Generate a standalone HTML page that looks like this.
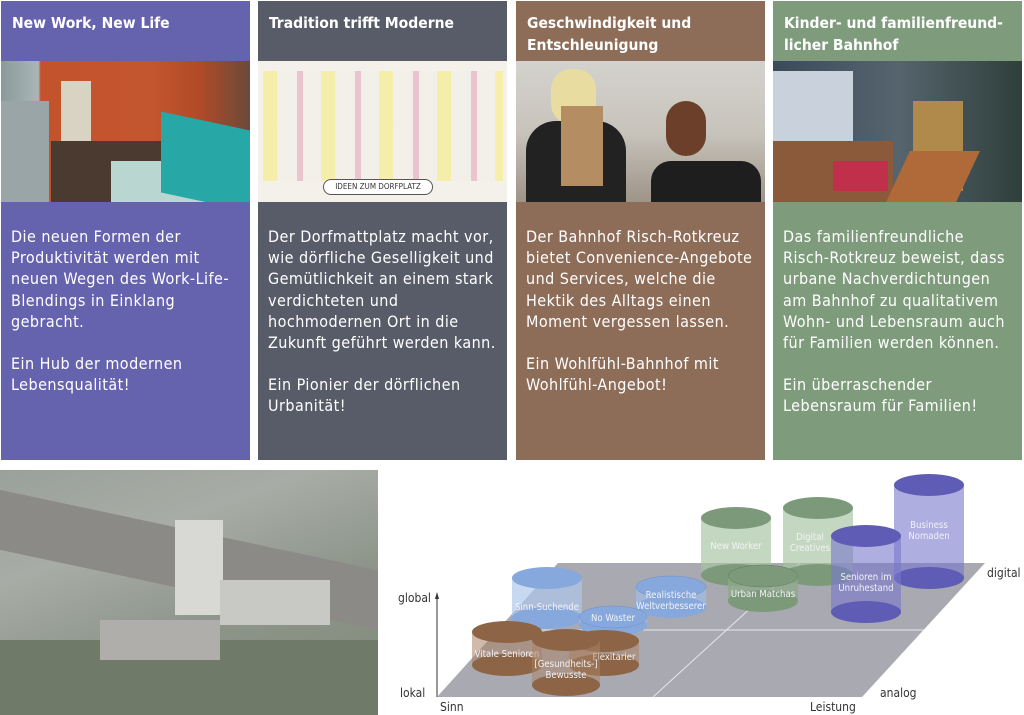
<!DOCTYPE html>
<html><head><meta charset="utf-8"><style>
*{margin:0;padding:0;box-sizing:border-box}
body{width:1024px;height:715px;background:#fff;position:relative;overflow:hidden;font-family:"DejaVu Sans Condensed","Liberation Sans",sans-serif}
.card{position:absolute;top:1px;width:249px;height:459px;color:#fff}
.hd{height:60px;padding:11px 10px 0 11px;font-weight:bold;font-size:15.5px;line-height:22px}
.img{height:141px;position:relative;overflow:hidden}
.tx{padding:24px 4px 0 10px;font-size:16px;line-height:21.2px;letter-spacing:0.45px;white-space:nowrap}
.tx p{margin-bottom:21px}
</style></head><body>

<div class="card" style="left:1px;background:#6562ae">
<div class="hd">New Work, New Life</div>
<div class="img" style="background:linear-gradient(90deg,#8a9a9c 0,#aab6b6 15%,#c2532c 16%,#c4562f 60%,#b04a28 80%,#6a4a3a 100%)">
<div style="position:absolute;left:0;top:40px;width:48px;height:101px;background:#9aa5a8"></div>
<div style="position:absolute;left:60px;top:20px;width:30px;height:110px;background:#d8d3c3"></div>
<div style="position:absolute;left:50px;top:80px;width:110px;height:61px;background:#4a3a30"></div>
<div style="position:absolute;left:110px;top:100px;width:139px;height:41px;background:#b9d6d0"></div>
<div style="position:absolute;left:160px;top:60px;width:89px;height:81px;background:#27a7a5;transform:skewY(12deg)"></div>
</div>
<div class="tx"><p>Die neuen Formen der<br>Produktivität werden mit<br>neuen Wegen des Work-Life-<br>Blendings in Einklang<br>gebracht.</p><p>Ein Hub der modernen<br>Lebensqualität!</p></div>
</div>

<div class="card" style="left:258px;background:#585b68">
<div class="hd">Tradition trifft Moderne</div>
<div class="img" style="background:#f3f1ea">
<div style="position:absolute;left:5px;top:10px;width:240px;height:110px;background:repeating-linear-gradient(90deg,#f5ee9a 0 14px,#f1efe8 14px 34px,#e8b8c8 34px 40px,#f1efe8 40px 58px);opacity:.8"></div>
<div style="position:absolute;left:65px;top:118px;width:110px;height:16px;border:1px solid #555;border-radius:8px;background:#fff;font-size:8px;color:#333;text-align:center;line-height:14px">IDEEN ZUM DORFPLATZ</div>
</div>
<div class="tx"><p>Der Dorfmattplatz macht vor,<br>wie dörfliche Geselligkeit und<br>Gemütlichkeit an einem stark<br>verdichteten und<br>hochmodernen Ort in die<br>Zukunft geführt werden kann.</p><p>Ein Pionier der dörflichen<br>Urbanität!</p></div>
</div>

<div class="card" style="left:516px;background:#8d6c58">
<div class="hd">Geschwindigkeit und<br>Entschleunigung</div>
<div class="img" style="background:linear-gradient(180deg,#d4d2ce 0,#c8c4bc 50%,#9e9488 100%)">
<div style="position:absolute;left:10px;top:60px;width:100px;height:81px;background:#222;border-radius:30px 30px 0 0"></div>
<div style="position:absolute;left:35px;top:8px;width:45px;height:55px;background:#e9dca0;border-radius:20px"></div>
<div style="position:absolute;left:45px;top:45px;width:42px;height:80px;background:#b48d62"></div>
<div style="position:absolute;left:135px;top:100px;width:110px;height:41px;background:#1e1e1e;border-radius:20px 20px 0 0"></div>
<div style="position:absolute;left:150px;top:40px;width:40px;height:55px;background:#6b3f2a;border-radius:20px"></div>
</div>
<div class="tx"><p>Der Bahnhof Risch-Rotkreuz<br>bietet Convenience-Angebote<br>und Services, welche die<br>Hektik des Alltags einen<br>Moment vergessen lassen.</p><p>Ein Wohlfühl-Bahnhof mit<br>Wohlfühl-Angebot!</p></div>
</div>

<div class="card" style="left:773px;background:#7e9b7c">
<div class="hd">Kinder- und familienfreund-<br>licher Bahnhof</div>
<div class="img" style="background:linear-gradient(90deg,#3a4a5a 0,#56646e 50%,#2f3f3a 100%)">
<div style="position:absolute;left:0;top:10px;width:80px;height:70px;background:#c9d2dc"></div>
<div style="position:absolute;left:0;top:80px;width:120px;height:61px;background:#8a5a3a"></div>
<div style="position:absolute;left:60px;top:100px;width:55px;height:30px;background:#c0304a"></div>
<div style="position:absolute;left:140px;top:40px;width:50px;height:90px;background:#b08a4a"></div>
<div style="position:absolute;left:125px;top:90px;width:70px;height:51px;background:#b06a3a;transform:skewX(-25deg)"></div>
</div>
<div class="tx"><p>Das familienfreundliche<br>Risch-Rotkreuz beweist, dass<br>urbane Nachverdichtungen<br>am Bahnhof zu qualitativem<br>Wohn- und Lebensraum auch<br>für Familien werden können.</p><p>Ein überraschender<br>Lebensraum für Familien!</p></div>
</div>

<div style="position:absolute;left:0;top:470px;width:378px;height:245px;background:linear-gradient(160deg,#9aa19a 0,#a8aca6 30%,#8d958a 60%,#7f8a78 100%);overflow:hidden">
<div style="position:absolute;left:0;top:60px;width:378px;height:60px;background:#8c8a86;transform:skewY(12deg)"></div>
<div style="position:absolute;left:175px;top:50px;width:48px;height:95px;background:#d8d8d4"></div>
<div style="position:absolute;left:220px;top:110px;width:110px;height:45px;background:#c8c8c4"></div>
<div style="position:absolute;left:0;top:170px;width:378px;height:75px;background:#6f7a68"></div>
<div style="position:absolute;left:100px;top:150px;width:120px;height:40px;background:#b0aeaa"></div>
</div>

<svg style="position:absolute;left:0;top:0" width="1024" height="715" font-family="DejaVu Sans Condensed, Liberation Sans, sans-serif">
<polygon points="437,697 862,697 985,563 558,563" fill="#a9a9b1"/>
<line x1="507" y1="630" x2="924" y2="630" stroke="#e6e6ea" stroke-width="1"/>
<line x1="653" y1="697" x2="800" y2="563" stroke="#e6e6ea" stroke-width="1"/>
<line x1="437" y1="697" x2="437" y2="598" stroke="#333" stroke-width="1"/>
<polygon points="437,592 435,599 439,599" fill="#333"/>
<g font-size="12" fill="#333">
<text x="398" y="602">global</text><text x="400" y="697">lokal</text>
<text x="440" y="711">Sinn</text><text x="810" y="711">Leistung</text>
<text x="880" y="697">analog</text><text x="987" y="577">digital</text>
</g>
<g font-size="9.5" fill="#f2f2f6" text-anchor="middle">
<path d="M894,485 L894,578 A35,11 0 0 0 964,578 L964,485 Z" fill="rgba(120,120,205,0.6)"/>
<ellipse cx="929" cy="578" rx="35" ry="11" fill="#5e5cb4"/><ellipse cx="929" cy="485" rx="35" ry="11" fill="#5e5cb4"/>
<text x="929" y="528">Business</text><text x="929" y="539">Nomaden</text>
<path d="M783,508 L783,575 A35,11 0 0 0 853,575 L853,508 Z" fill="rgba(165,195,160,0.65)"/>
<ellipse cx="818" cy="575" rx="35" ry="11" fill="#7c9a7a"/><ellipse cx="818" cy="508" rx="35" ry="11" fill="#7c9a7a"/>
<text x="810" y="540">Digital</text><text x="810" y="551">Creatives</text>
<path d="M701,518 L701,575 A35,11 0 0 0 771,575 L771,518 Z" fill="rgba(165,195,160,0.65)"/>
<ellipse cx="736" cy="575" rx="35" ry="11" fill="#7c9a7a"/><ellipse cx="736" cy="518" rx="35" ry="11" fill="#7c9a7a"/>
<text x="736" y="549">New Worker</text>
<path d="M831,536 L831,612 A35,11 0 0 0 901,612 L901,536 Z" fill="rgba(120,120,205,0.6)"/>
<ellipse cx="866" cy="612" rx="35" ry="11" fill="#5e5cb4"/><ellipse cx="866" cy="536" rx="35" ry="11" fill="#5e5cb4"/>
<path d="M728,576 L728,601 A35,11 0 0 0 798,601 L798,576 Z" fill="rgba(140,170,135,0.75)"/>
<ellipse cx="763" cy="601" rx="35" ry="11" fill="#7c9a7a"/><ellipse cx="763" cy="576" rx="35" ry="11" fill="#7c9a7a" stroke="#5f7c5d" stroke-width=".5"/>
<text x="763" y="597">Urban Matchas</text>
<path d="M512,578 L512,618 A35,11 0 0 0 582,618 L582,578 Z" fill="rgba(175,200,235,0.7)"/>
<ellipse cx="547" cy="618" rx="35" ry="11" fill="#86a8dc"/><ellipse cx="547" cy="578" rx="35" ry="11" fill="#86a8dc"/>
<text x="547" y="610">Sinn-Suchende</text>
<path d="M636,587 L636,607 A35,11 0 0 0 706,607 L706,587 Z" fill="rgba(160,190,230,0.75)"/>
<ellipse cx="671" cy="607" rx="35" ry="11" fill="#86a8dc"/><ellipse cx="671" cy="587" rx="35" ry="11" fill="#86a8dc" stroke="#6f8fc4" stroke-width=".5"/>
<text x="671" y="598">Realistische</text><text x="671" y="609">Weltverbesserer</text>
<path d="M579,617 L579,625 A34,11 0 0 0 647,625 L647,617 Z" fill="rgba(160,190,230,0.8)"/>
<ellipse cx="613" cy="625" rx="34" ry="11" fill="#86a8dc"/><ellipse cx="613" cy="617" rx="34" ry="11" fill="#86a8dc" stroke="#6f8fc4" stroke-width=".5"/>
<text x="613" y="621">No Waster</text>
<path d="M472,632 L472,665 A35,11 0 0 0 542,665 L542,632 Z" fill="rgba(170,130,100,0.55)"/>
<ellipse cx="507" cy="665" rx="35" ry="11" fill="#8d6546"/><ellipse cx="507" cy="632" rx="35" ry="11" fill="#8d6546"/>
<text x="507" y="657">Vitale Senioren</text>
<path d="M569,641 L569,665 A35,11 0 0 0 639,665 L639,641 Z" fill="rgba(170,130,100,0.55)"/>
<ellipse cx="604" cy="665" rx="35" ry="11" fill="#8d6546"/><ellipse cx="604" cy="641" rx="35" ry="11" fill="#8d6546"/>
<text x="614" y="660">Flexitarier</text>
<path d="M532,640 L532,685 A34,11 0 0 0 600,685 L600,640 Z" fill="rgba(170,130,100,0.5)"/>
<ellipse cx="566" cy="685" rx="34" ry="11" fill="#8d6546"/><ellipse cx="566" cy="640" rx="34" ry="11" fill="#8d6546"/>
<text x="566" y="667">[Gesundheits-]</text><text x="566" y="678">Bewusste</text>
<text x="866" y="580">Senioren im</text><text x="866" y="591">Unruhestand</text>
</g>
</svg>
</body></html>
